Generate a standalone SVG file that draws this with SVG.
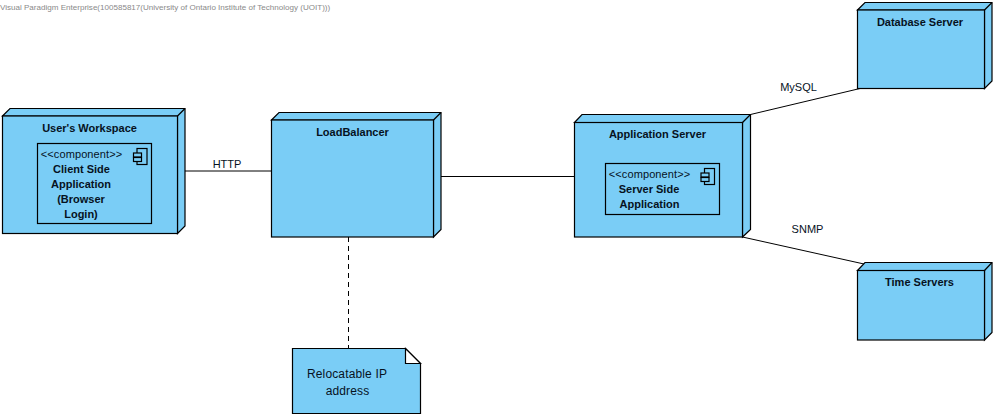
<svg xmlns="http://www.w3.org/2000/svg" width="997" height="418" viewBox="0 0 997 418">
<style>
text{font-family:"Liberation Sans",Arial,sans-serif;font-size:11px;fill:#06121e;text-anchor:middle}
.b{font-weight:bold}
.f{fill:#7acdf6;stroke:#000;stroke-width:1.2;stroke-linejoin:miter}
.n{fill:none;stroke:#000;stroke-width:1.2}
.c{fill:none;stroke:#000;stroke-width:1}
</style>
<rect width="997" height="418" fill="#fff"/>
<text x="0" y="10" style="text-anchor:start;font-size:8.05px;fill:#8a8a8a">Visual Paradigm Enterprise(100585817(University of Ontario Institute of Technology (UOIT)))</text>
<g id="connectors">
<line class="c" x1="185" y1="171" x2="271.5" y2="171"/>
<line class="c" x1="441" y1="176.5" x2="574.5" y2="176.5"/>
<line class="c" x1="750.5" y1="114.5" x2="860" y2="88.5"/>
<line class="c" x1="742.5" y1="237" x2="864" y2="264"/>
<line class="c" x1="348.5" y1="237" x2="348.5" y2="348.5" stroke-dasharray="5 4"/>
<text x="227" y="168">HTTP</text>
<text x="798.5" y="91">MySQL</text>
<text x="807.5" y="233">SNMP</text>
</g>
<g id="users-workspace">
<path class="f" d="M2.5 116L10 108.5H185V226L177.5 233.5V116H2.5Z"/>
<rect class="f" x="2.5" y="116" width="175" height="117.500"/>
<path class="n" d="M177.500 116L185 108.500"/>
<text class="b" x="89.500" y="132">User's Workspace</text>
<g id="client-side-application">
<rect class="f" x="37.500" y="143.500" width="114" height="80"/>
<text x="81.500" y="158" style="letter-spacing:.1px">&lt;&lt;component&gt;&gt;</text>
<rect class="n" x="137" y="148.500" width="10" height="16"/>
<rect class="f" x="133.500" y="153" width="8" height="4"/>
<rect class="f" x="133.500" y="157.500" width="8" height="4"/>
<text class="b" x="81.500" y="173">Client Side</text>
<text class="b" x="81" y="188">Application</text>
<text class="b" x="81" y="203">(Browser</text>
<text class="b" x="81" y="218">Login)</text>
</g>
</g>
<g id="load-balancer">
<path class="f" d="M271.500 120L279 112.500H441V229.500L433.500 237V120H271.500Z"/>
<rect class="f" x="271.500" y="120" width="162" height="117"/>
<path class="n" d="M433.500 120L441 112.500"/>
<text class="b" x="352.500" y="136">LoadBalancer</text>
</g>
<g id="application-server">
<path class="f" d="M574.500 122.500L582 114.500H750.500V229.500L742.500 237V122.500H574.500Z"/>
<rect class="f" x="574.500" y="122.500" width="168" height="114.500"/>
<path class="n" d="M742.500 122.500L750.500 114.500"/>
<text class="b" x="657.500" y="138">Application Server</text>
<g id="server-side-application">
<rect class="f" x="605.500" y="163.500" width="114" height="51"/>
<text x="649.500" y="178" style="letter-spacing:.1px">&lt;&lt;component&gt;&gt;</text>
<rect class="n" x="704.500" y="168.500" width="10" height="16"/>
<rect class="f" x="701" y="173" width="8" height="4"/>
<rect class="f" x="701" y="177.500" width="8" height="4"/>
<text class="b" x="649" y="193">Server Side</text>
<text class="b" x="649.500" y="208">Application</text>
</g>
</g>
<g id="database-server">
<path class="f" d="M857.500 10L865 2.500H992V81L984.500 88.500V10H857.500Z"/>
<rect class="f" x="857.500" y="10" width="127" height="78.500"/>
<path class="n" d="M984.500 10L992 2.500"/>
<text class="b" x="920" y="26">Database Server</text>
</g>
<g id="time-servers">
<path class="f" d="M857.500 270.500L865 262.500H992V332.500L984.500 340V270.500H857.500Z"/>
<rect class="f" x="857.500" y="270.500" width="127" height="69.500"/>
<path class="n" d="M984.500 270.500L992 262.500"/>
<text class="b" x="919.500" y="286">Time Servers</text>
</g>
<g id="relocatable-ip-note">
<path class="f" d="M292.500 348.500H405.500L420.500 363.500V413.500H292.500Z"/>
<path d="M405.500 348.500V363.500H420.500Z" fill="#fff" stroke="#000" stroke-width="1.200"/>
<text x="347" y="378" style="font-size:12px;letter-spacing:.15px">Relocatable IP</text>
<text x="347.500" y="395" style="font-size:12px;letter-spacing:.15px">address</text>
</g>
</svg>
